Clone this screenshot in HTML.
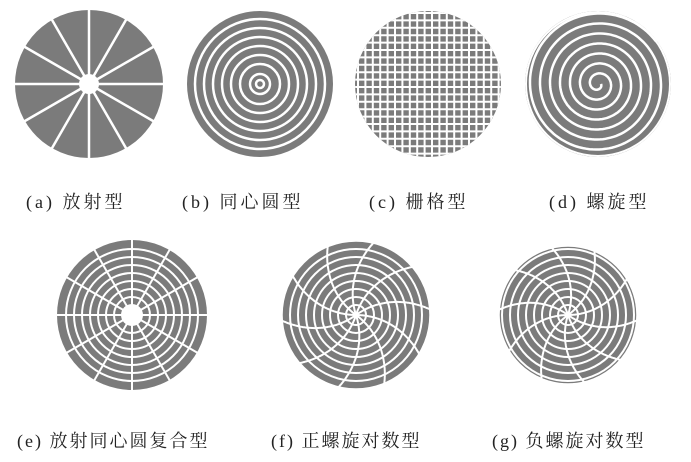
<!DOCTYPE html>
<html><head><meta charset="utf-8"><style>
html,body{margin:0;padding:0;background:#fff;width:691px;height:462px;overflow:hidden}
svg{position:absolute;left:0;top:0}
.l{position:absolute;font-family:"Liberation Serif","Noto Serif CJK SC",serif;font-size:18px;color:#222;white-space:nowrap;letter-spacing:3px}
</style></head><body>
<svg id="s" width="691" height="462" viewBox="0 0 691 462"></svg>
<div class="l" style="left:26px;top:188px">(a) 放射型</div>
<div class="l" style="left:182px;top:188px">(b) 同心圆型</div>
<div class="l" style="left:369px;top:188px">(c) 栅格型</div>
<div class="l" style="left:549px;top:188px">(d) 螺旋型</div>
<div class="l" style="left:17px;top:427px;letter-spacing:2px">(e) 放射同心圆复合型</div>
<div class="l" style="left:271px;top:427px;letter-spacing:2px">(f) 正螺旋对数型</div>
<div class="l" style="left:492px;top:427px;letter-spacing:2px">(g) 负螺旋对数型</div>
<script>
var s=document.getElementById('s'),h='',G='#7b7b7b',W='#fff';
function disk(cx,cy,r){h+='<circle cx="'+cx+'" cy="'+cy+'" r="'+r+'" fill="'+G+'"/>';}
function line(a,b,c,d,w){h+='<line x1="'+a+'" y1="'+b+'" x2="'+c+'" y2="'+d+'" stroke="'+W+'" stroke-width="'+(w||2.5)+'"/>';}
function circ(cx,cy,r,w){h+='<circle cx="'+cx+'" cy="'+cy+'" r="'+r+'" fill="none" stroke="'+W+'" stroke-width="'+(w||2.5)+'"/>';}
function path(d,w){h+='<path d="'+d+'" fill="none" stroke="'+W+'" stroke-width="'+(w||2.5)+'"/>';}
// (a)
disk(89,84,74);
for(var i=0;i<12;i++){var a=i*Math.PI/6;line(89,84,89+75*Math.cos(a),84+75*Math.sin(a));}
h+='<circle cx="89" cy="84" r="10" fill="#fff"/>';
// (b)
disk(260,84,73);
[4,10,20,29,38,47,56,65].forEach(function(r){circ(260,84,r);});
// (c)
h+='<clipPath id="cc"><circle cx="428" cy="84" r="73"/></clipPath><g clip-path="url(#cc)"><rect x="350" y="6" width="160" height="160" fill="'+G+'"/>';
for(var x=358;x<505;x+=7.4){h+='<line x1="'+x+'" y1="0" x2="'+x+'" y2="170" stroke="#fff" stroke-width="2"/>';}
for(var y=13;y<160;y+=7.4){h+='<line x1="340" y1="'+y+'" x2="520" y2="'+y+'" stroke="#fff" stroke-width="2"/>';}
h+='</g>';
// (d)
disk(598,84,73);
var d='';for(var t=0;t<=7*2*Math.PI;t+=0.05){var r=3+t*10/(2*Math.PI);if(r>72)break;var x=598+r*Math.cos(t),y=84+r*Math.sin(t);d+=(d?'L':'M')+x.toFixed(1)+' '+y.toFixed(1);}
path(d);circ(598,84,72,2);
// (e)
disk(132,315,75);
for(var i=0;i<12;i++){var a=i*Math.PI/6;line(132,315,132+76*Math.cos(a),315+76*Math.sin(a),2);}
[18,26,34,42,50,58,66].forEach(function(r){circ(132,315,r,2);});
h+='<circle cx="132" cy="315" r="11" fill="#fff"/>';
// (f),(g)
function logd(cx,cy,R,dir){disk(cx,cy,R);
 [10,18,26,34,42,50,58,66].forEach(function(r){if(r<R-2)circ(cx,cy,r,2);});
 for(var i=0;i<10;i++){var a0=i*Math.PI/5,p='';for(var r=0;r<=R+1;r+=1){var a=a0+dir*0.55*(r/R);p+=(p?'L':'M')+(cx+r*Math.cos(a)).toFixed(1)+' '+(cy+r*Math.sin(a)).toFixed(1);}path(p,2);}
 circ(cx,cy,R,1.5);}
logd(356,315,74,1);
logd(568,315,69,-1);
s.innerHTML=h;
</script>
</body></html>
